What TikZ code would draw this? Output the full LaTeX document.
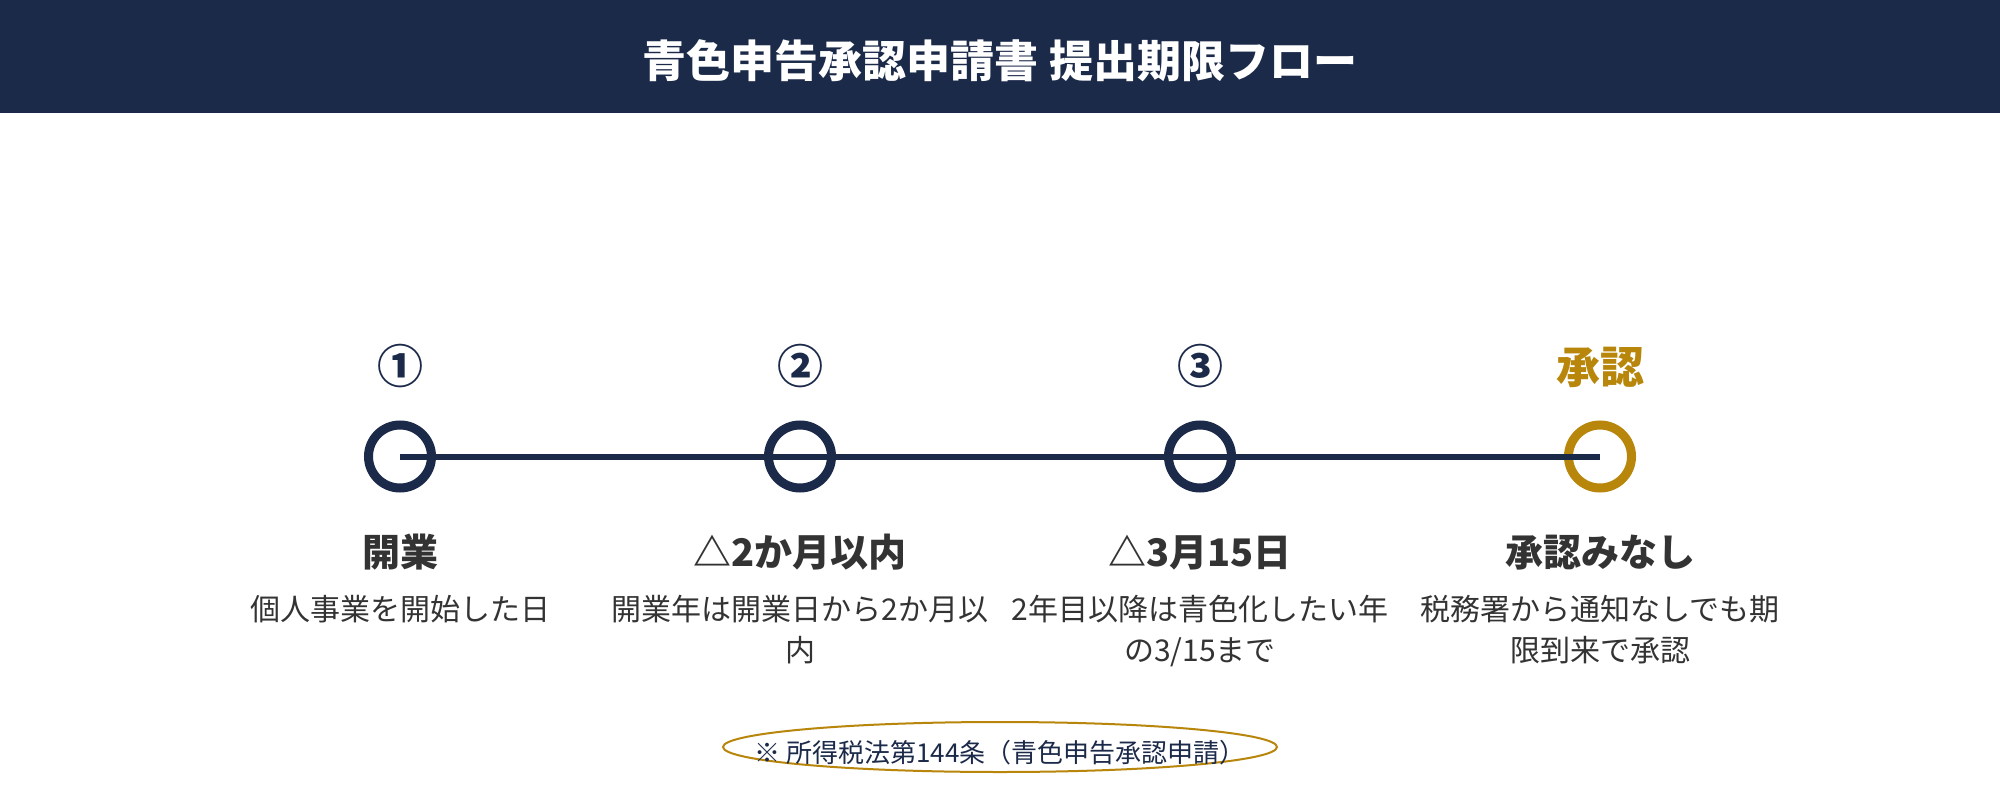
\documentclass[tikz,border=0pt]{standalone}
\usepackage{fontspec}
\setmainfont{Noto Sans CJK JP}
\definecolor{navy}{HTML}{1C2A4A}
\definecolor{gold}{HTML}{B8860B}
\definecolor{txt}{HTML}{333333}
\tikzset{
  ring/.style={circle, draw=navy, line width=9pt, minimum size=63pt, inner sep=0pt},
  goldring/.style={ring, draw=gold},
  numlbl/.style={anchor=base, text=navy, font=\fontsize{46pt}{52pt}\selectfont\bfseries, inner sep=0pt},
  headlbl/.style={anchor=base, text=txt, font=\fontsize{38pt}{44pt}\selectfont\bfseries, inner sep=0pt},
  desclbl/.style={anchor=base, text=txt, font=\fontsize{30pt}{36pt}\selectfont, inner sep=0pt},
  tline/.style={draw=navy, line width=6pt}
}
\begin{document}
\begin{tikzpicture}[x=1pt, y=-1pt]
\useasboundingbox (0,0) rectangle (2000,800);
\fill[white] (0,0) rectangle (2000,800);
% header
\fill[navy] (0,0) rectangle (2000,113);
\node[anchor=base, text=white, inner sep=0pt, font=\fontsize{44pt}{50pt}\selectfont\bfseries] (title) at (1000,77.5) {青色申告承認申請書 提出期限フロー};
% circles
\node[ring] (c1) at (400,456.5) {};
\node[ring] (c2) at (800,456.5) {};
\node[ring] (c3) at (1200,456.5) {};
\node[goldring] (c4) at (1600,456.5) {};
\draw[tline] (c1.center) -- (c2.center) -- (c3.center) -- (c4.center);
% numbers
\node[numlbl] (n1) at (400,383.5) {①};
\node[numlbl] (n2) at (800,383.5) {②};
\node[numlbl] (n3) at (1200,383.5) {③};
\node[anchor=base, text=gold, inner sep=0pt, font=\fontsize{44pt}{50pt}\selectfont\bfseries] (n4) at (1600,383.5) {承認};
% headings
\node[headlbl] (h1) at (400,566.5) {開業};
\node[headlbl] (h2) at (800,566.5) {△2か月以内};
\node[headlbl] (h3) at (1200,566.5) {△3月15日};
\node[headlbl] (h4) at (1600,566.5) {承認みなし};
% descriptions
\node[desclbl] (d1a) at (400,620) {個人事業を開始した日};
\node[desclbl] (d2a) at (800,620) {開業年は開業日から2か月以};
\node[desclbl] (d2b) at (800,661) {内};
\node[desclbl] (d3a) at (1200,620) {2年目以降は青色化したい年};
\node[desclbl] (d3b) at (1200,661) {の3/15まで};
\node[desclbl] (d4a) at (1600,620) {税務署から通知なしでも期};
\node[desclbl] (d4b) at (1600,661) {限到来で承認};
% footer
\coordinate (foot) at (1000,747);
\draw[gold, line width=2pt] (foot) ellipse [x radius=277, y radius=25];
\node[anchor=base, text=navy, inner sep=0pt, font=\fontsize{26pt}{30pt}\selectfont] (fn) at (1000,762) {※ 所得税法第144条（青色申告承認申請）};
\end{tikzpicture}
\end{document}
